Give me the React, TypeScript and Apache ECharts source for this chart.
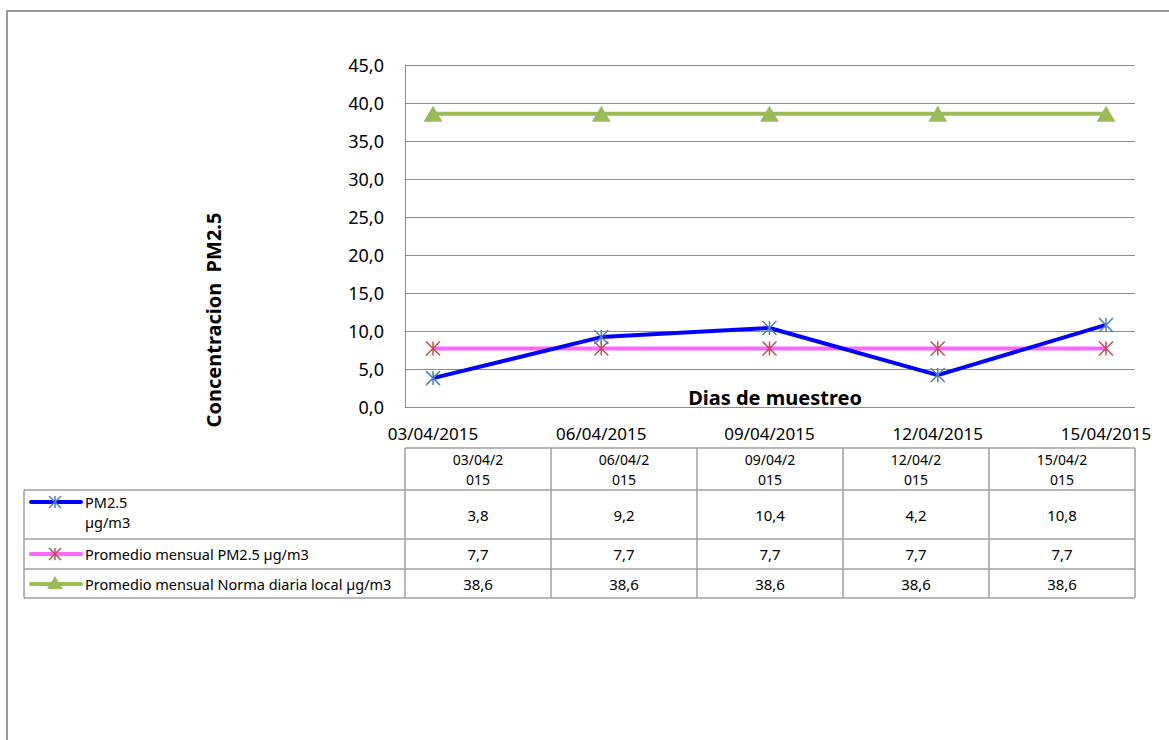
import React, { useEffect, useRef } from "react";
import * as echarts from "echarts";

const dates = ["03/04/2015", "06/04/2015", "09/04/2015", "12/04/2015", "15/04/2015"];
const pm25 = [3.8, 9.2, 10.4, 4.2, 10.8];
const promedio = [7.7, 7.7, 7.7, 7.7, 7.7];
const norma = [38.6, 38.6, 38.6, 38.6, 38.6];
const seriesNames = ["PM2.5 µg/m3", "Promedio mensual PM2.5 µg/m3", "Promedio mensual Norma diaria local µg/m3"];
const yTicks = { min: 0, max: 45, interval: 5 };

const FONT = "'Noto Sans', 'Open Sans', sans-serif";
const ASTERISK = "path://M0 0L14 14M14 0L0 14M7 0L7 14";

const fmt = (v: number) => v.toFixed(1).replace(".", ",");

function asteriskGraphic(cx: number, cy: number, color: string) {
  const s = 6;
  const mk = (x1: number, y1: number, x2: number, y2: number) => ({
    type: "line",
    shape: { x1: cx + x1, y1: cy + y1, x2: cx + x2, y2: cy + y2 },
    style: { stroke: color, lineWidth: 1.5 },
    z: 20,
  });
  return [mk(-s, -s, s, s), mk(s, -s, -s, s), mk(0, -s, 0, s)];
}

export default function App() {
  const ref = useRef<HTMLDivElement>(null);
  useEffect(() => {
    if (!ref.current) return;
    const chart = echarts.init(ref.current, null, { renderer: "svg" });

    const tableLeft = 405;
    const colW = 146;
    const rowsY = [448, 490, 539, 569, 598];
    const legendLeft = 24;
    const tableRight = tableLeft + colW * dates.length;
    const lineColor = "#a0a0a0";
    const g: any[] = [];

    // outer border
    g.push({ type: "rect", shape: { x: 7, y: 11, width: 1250, height: 800 }, style: { fill: "none", stroke: "#999", lineWidth: 2 } });

    // horizontal table lines
    g.push({ type: "line", shape: { x1: tableLeft, y1: rowsY[0], x2: tableRight, y2: rowsY[0] }, style: { stroke: lineColor, lineWidth: 1.5 } });
    for (let i = 1; i < rowsY.length; i++) {
      g.push({ type: "line", shape: { x1: legendLeft, y1: rowsY[i], x2: tableRight, y2: rowsY[i] }, style: { stroke: lineColor, lineWidth: 1.5 } });
    }
    // vertical table lines
    g.push({ type: "line", shape: { x1: legendLeft, y1: rowsY[1], x2: legendLeft, y2: rowsY[4] }, style: { stroke: lineColor, lineWidth: 1.5 } });
    for (let c = 0; c <= dates.length; c++) {
      const x = tableLeft + c * colW;
      g.push({ type: "line", shape: { x1: x, y1: rowsY[0], x2: x, y2: rowsY[4] }, style: { stroke: lineColor, lineWidth: 1.5 } });
    }
    // header texts
    dates.forEach((d, c) => {
      const cx = tableLeft + c * colW + colW / 2;
      g.push({ type: "text", x: cx, y: 459, style: { text: d.slice(0, 7), font: `14px ${FONT}`, fill: "#000", align: "center", verticalAlign: "middle" } });
      g.push({ type: "text", x: cx, y: 479, style: { text: d.slice(7), font: `14px ${FONT}`, fill: "#000", align: "center", verticalAlign: "middle" } });
    });
    // values
    const allSeries = [pm25, promedio, norma];
    allSeries.forEach((arr, r) => {
      const cy = (rowsY[r + 1] + rowsY[r + 2]) / 2;
      arr.forEach((v, c) => {
        const cx = tableLeft + c * colW + colW / 2;
        g.push({ type: "text", x: cx, y: cy, style: { text: fmt(v), font: `15px ${FONT}`, fill: "#000", align: "center", verticalAlign: "middle" } });
      });
    });
    // legend entries
    const legendY = [502, 554, 584];
    const lineCols = ["#0000FF", "#FF66FF", "#9BBB59"];
    legendY.forEach((y, r) => {
      g.push({ type: "line", shape: { x1: 31, y1: y, x2: 81, y2: y }, style: { stroke: lineCols[r], lineWidth: 4, lineCap: "round" }, z: 10 });
    });
    g.push(...asteriskGraphic(55, legendY[0], "#4F81BD"));
    g.push(...asteriskGraphic(55, legendY[1], "#C0504D"));
    g.push({ type: "polygon", shape: { points: [[55, legendY[2] - 8], [47, legendY[2] + 5], [63, legendY[2] + 5]] }, style: { fill: "#9BBB59" }, z: 20 });
    const LF = `14.5px ${FONT}`;
    g.push({ type: "text", x: 85, y: 502, style: { text: "PM2.5", font: LF, fill: "#000", verticalAlign: "middle" } });
    g.push({ type: "text", x: 85, y: 522, style: { text: "µg/m3", font: LF, fill: "#000", verticalAlign: "middle" } });
    g.push({ type: "text", x: 85, y: 554, style: { text: seriesNames[1], font: LF, fill: "#000", verticalAlign: "middle" } });
    g.push({ type: "text", x: 85, y: 584, style: { text: seriesNames[2], font: LF, fill: "#000", verticalAlign: "middle" } });

    // titles
    g.push({ type: "text", x: 213, y: 320, rotation: Math.PI / 2, style: { text: "Concentracion  PM2.5", font: `bold 20px ${FONT}`, fill: "#000", align: "center", verticalAlign: "middle" } });
    g.push({ type: "text", x: 775, y: 397, style: { text: "Dias de muestreo", font: `bold 20px ${FONT}`, fill: "#000", align: "center", verticalAlign: "middle" }, z: 30 });

    chart.setOption({
      animation: false,
      grid: [
        { left: 405, top: 65, width: 730, height: 342 },
        { left: 433, top: 65, width: 673, height: 342 },
      ],
      xAxis: [
        { gridIndex: 0, type: "value", min: 0, max: 1, show: false },
        {
          gridIndex: 1,
          type: "category",
          boundaryGap: false,
          data: dates,
          axisLine: { show: false },
          axisTick: { show: false },
          axisLabel: { fontSize: 17, fontFamily: FONT, color: "#000", margin: 18, interval: 0 },
        },
      ],
      yAxis: [
        {
          gridIndex: 0,
          type: "value",
          min: yTicks.min,
          max: yTicks.max,
          interval: yTicks.interval,
          axisLine: { show: true, lineStyle: { color: "#8c8c8c", width: 1 } },
          axisTick: { show: false },
          splitLine: { show: true, lineStyle: { color: "#8c8c8c", width: 1 } },
          axisLabel: { fontSize: 18, fontFamily: FONT, color: "#000", margin: 21, formatter: (v: number) => fmt(v) },
        },
        { gridIndex: 1, type: "value", min: yTicks.min, max: yTicks.max, show: false },
      ],
      series: [
        {
          name: seriesNames[2],
          type: "line",
          xAxisIndex: 1,
          yAxisIndex: 1,
          data: norma,
          lineStyle: { color: "#9BBB59", width: 4 },
          symbol: "triangle",
          symbolSize: [19, 16],
          itemStyle: { color: "#9BBB59" },
          z: 2,
        },
        {
          name: seriesNames[1],
          type: "line",
          xAxisIndex: 1,
          yAxisIndex: 1,
          data: promedio,
          lineStyle: { color: "#FF66FF", width: 4 },
          symbol: ASTERISK,
          symbolSize: 14,
          itemStyle: { color: "#C0504D", borderColor: "#C0504D", borderWidth: 1.5 },
          z: 3,
        },
        {
          name: seriesNames[0],
          type: "line",
          xAxisIndex: 1,
          yAxisIndex: 1,
          data: pm25,
          lineStyle: { color: "#0000FF", width: 4 },
          symbol: ASTERISK,
          symbolSize: 14,
          itemStyle: { color: "#4F81BD", borderColor: "#4F81BD", borderWidth: 1.5 },
          z: 4,
        },
      ],
      graphic: g,
    });
    return () => chart.dispose();
  }, []);
  return <div ref={ref} style={{ position: "fixed", left: 0, top: 0, width: 1169, height: 740, background: "#fff" }} />;
}
